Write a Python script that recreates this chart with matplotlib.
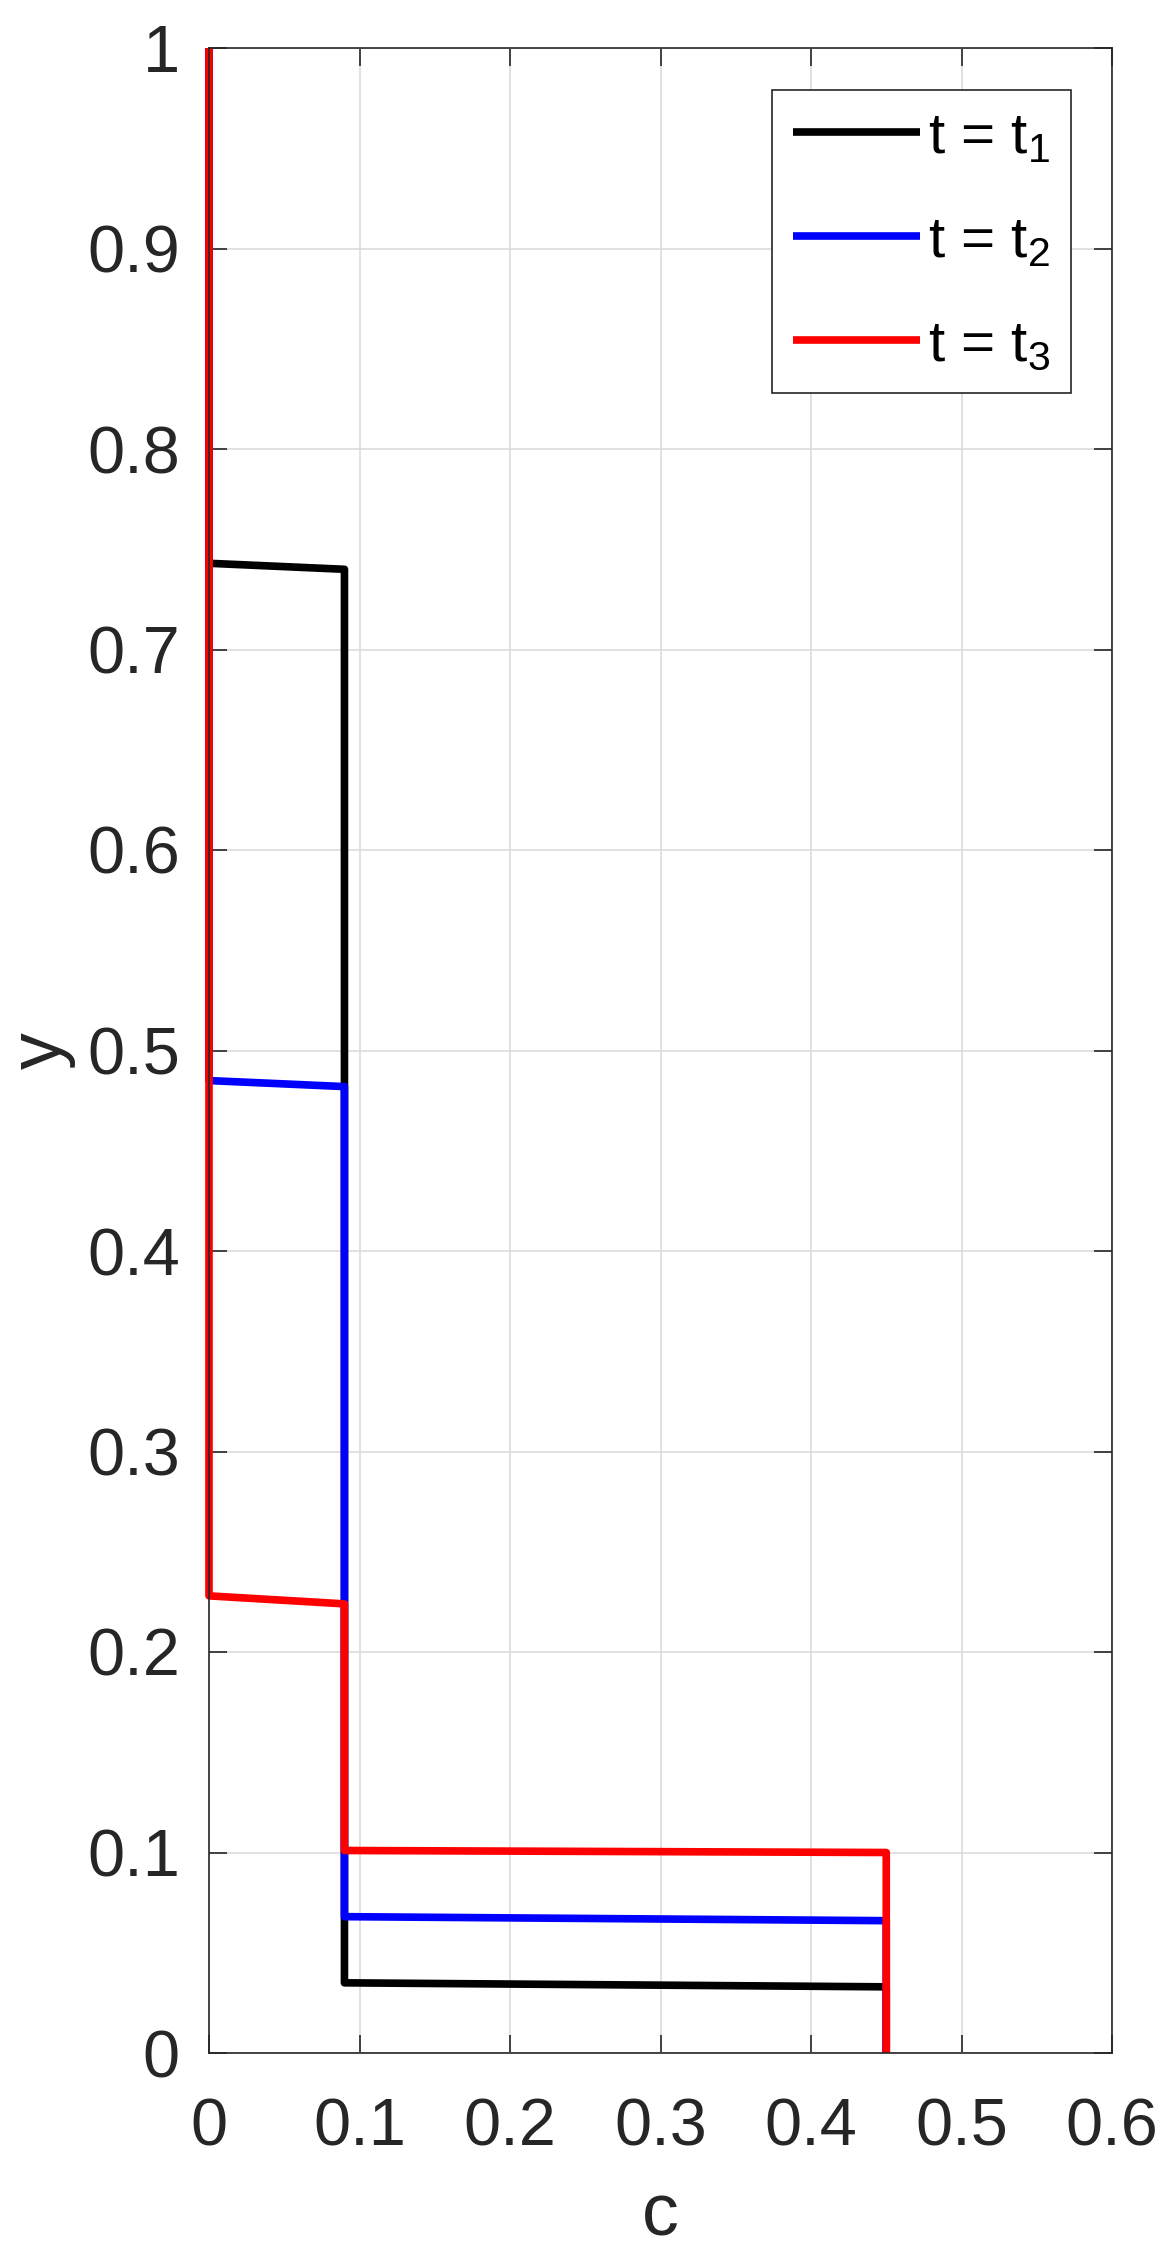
import matplotlib
matplotlib.use("Agg")
import matplotlib.pyplot as plt

# Profiles c(y) at three times (step-like)
c_t1 = [0.0, 0.0, 0.09, 0.09, 0.45, 0.45]
y_t1 = [1.0, 0.743, 0.740, 0.035, 0.033, 0.0]

c_t2 = [0.0, 0.0, 0.09, 0.09, 0.45, 0.45]
y_t2 = [1.0, 0.485, 0.482, 0.068, 0.066, 0.0]

c_t3 = [0.0, 0.0, 0.09, 0.09, 0.45, 0.45]
y_t3 = [1.0, 0.228, 0.224, 0.101, 0.100, 0.0]

labels = ["t = t$_1$", "t = t$_2$", "t = t$_3$"]
colors = ["#000000", "#0000ff", "#ff0000"]

xticks = [0, 0.1, 0.2, 0.3, 0.4, 0.5, 0.6]
xticklabels = ["0", "0.1", "0.2", "0.3", "0.4", "0.5", "0.6"]
yticks = [0, 0.1, 0.2, 0.3, 0.4, 0.5, 0.6, 0.7, 0.8, 0.9, 1]
yticklabels = ["0", "0.1", "0.2", "0.3", "0.4", "0.5", "0.6", "0.7", "0.8", "0.9", "1"]

plt.rcParams['font.family'] = ['Liberation Sans', 'DejaVu Sans']
plt.rcParams['mathtext.default'] = 'regular'
plt.rcParams['mathtext.fontset'] = 'custom'
plt.rcParams['mathtext.rm'] = 'Liberation Sans'
plt.rcParams['mathtext.it'] = 'Liberation Sans'

W, H = 1174, 2261
fig = plt.figure(figsize=(W / 100, H / 100), dpi=100)
left, right, top, bottom = 209, 1112, 48, 2053
ax = fig.add_axes([left / W, (H - bottom) / H, (right - left) / W, (bottom - top) / H])

dark = "#262626"
for cs, ys, lab, col in zip([c_t1, c_t2, c_t3], [y_t1, y_t2, y_t3], labels, colors):
    ax.plot(cs, ys, color=col, lw=5.5, label=lab, clip_on=False,
            solid_capstyle='butt', solid_joinstyle='round')

ax.set_xlim(0, 0.6)
ax.set_ylim(0, 1)
ax.set_xticks(xticks)
ax.set_xticklabels(xticklabels)
ax.set_yticks(yticks)
ax.set_yticklabels(yticklabels)

ax.grid(True, color="#dcdcdc", lw=1.2)
ax.set_axisbelow(True)
for s in ax.spines.values():
    s.set_color(dark)
    s.set_linewidth(1.2)
ax.tick_params(direction='in', length=13, width=1.2, colors=dark, labelsize=48,
               top=True, right=True, labelcolor=dark)
ax.tick_params(axis='x', pad=32)
ax.tick_params(axis='y', pad=21)

ax.set_xlabel("c", fontsize=53, color=dark, labelpad=16)
ax.set_ylabel("y", fontsize=53, color=dark, labelpad=8)

leg = ax.legend(loc='upper right', bbox_to_anchor=(0.9546, 0.979), borderaxespad=0,
                fontsize=42, handlelength=2.18, handletextpad=0.14, labelspacing=0.86,
                borderpad=0.35, frameon=True, fancybox=False, framealpha=1)
leg.get_frame().set_edgecolor(dark)
leg.get_frame().set_linewidth(1.2)

fig.savefig("out.png", dpi=100)
